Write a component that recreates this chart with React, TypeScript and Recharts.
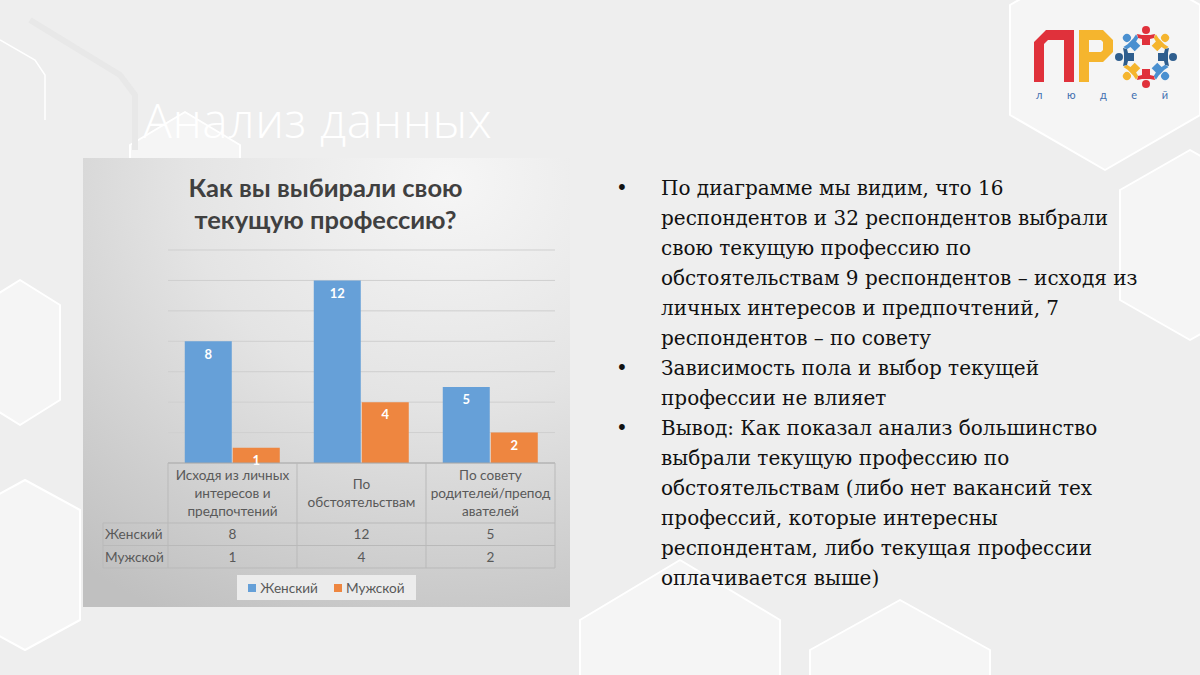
import React from "react";
import { BarChart, Bar, XAxis, YAxis, CartesianGrid, Legend, LabelList } from "recharts";

// категории (строки заголовков таблицы данных)
const categoryLines: string[][] = [
  ["Исходя из личных", "интересов и", "предпочтений"],
  ["По", "обстоятельствам"],
  ["По совету", "родителей/препод", "авателей"],
];
const seriesNames = ["Женский", "Мужской"];
const femaleValues = [8, 12, 5];
const maleValues = [1, 4, 2];
const yTicks = [0, 2, 4, 6, 8, 10, 12, 14];

const chartTitle = ["Как вы выбирали свою", "текущую профессию?"];
const slideTitle = "Анализ данных";
const bullets: string[][] = [
  [
    "По диаграмме мы видим, что 16",
    "респондентов и 32 респондентов выбрали",
    "свою текущую профессию по",
    "обстоятельствам 9 респондентов – исходя из",
    "личных интересов и предпочтений, 7",
    "респондентов – по совету",
  ],
  ["Зависимость пола и выбор текущей", "профессии не влияет"],
  [
    "Вывод: Как показал анализ большинство",
    "выбрали текущую профессию по",
    "обстоятельствам (либо нет вакансий тех",
    "профессий, которые интересны",
    "респондентам, либо текущая профессии",
    "оплачивается выше)",
  ],
];

const data = categoryLines.map((lines, i) => ({
  name: lines.join(" "),
  female: femaleValues[i],
  male: maleValues[i],
}));

const BLUE = "#66A0D8";
const ORANGE = "#EE8640";
const FONT = "Lato, 'Open Sans', sans-serif";

const CHART_W = 487;
const CHART_H = 449;
const MARGIN = { top: 92, right: 15, left: 85, bottom: 7 };
const BAND = (CHART_W - MARGIN.left - MARGIN.right) / categoryLines.length;
const HEAD_H = 60;
const ROW_H = 22.5;
const LABEL_COL = 65;
const TABLE_LINE = "#b9b9b9";
const TEXT = "#595959";

// таблица данных под осью X
const TableTick = (props: any) => {
  const { x, y, payload } = props;
  const i = payload.index;
  const lines = categoryLines[i];
  const left = x - BAND / 2;
  const right = x + BAND / 2;
  const rows = [femaleValues[i], maleValues[i]];
  const lh = 18;
  const y0 = y + HEAD_H / 2 - ((lines.length - 1) * lh) / 2;
  return (
    <g fontFamily={FONT} fontSize={13.6} fill={TEXT}>
      <line x1={left} x2={left} y1={y} y2={y + HEAD_H + ROW_H * 2} stroke={TABLE_LINE} />
      {i === categoryLines.length - 1 && (
        <line x1={right} x2={right} y1={y} y2={y + HEAD_H + ROW_H * 2} stroke={TABLE_LINE} />
      )}
      {[0, 1, 2].map((r) => (
        <line
          key={r}
          x1={i === 0 ? left - LABEL_COL : left}
          x2={right}
          y1={y + HEAD_H + ROW_H * r}
          y2={y + HEAD_H + ROW_H * r}
          stroke={TABLE_LINE}
        />
      ))}
      {i === 0 && (
        <line
          x1={left - LABEL_COL}
          x2={left - LABEL_COL}
          y1={y + HEAD_H}
          y2={y + HEAD_H + ROW_H * 2}
          stroke={TABLE_LINE}
        />
      )}
      {lines.map((t, k) => (
        <text key={k} x={x} y={y0 + k * lh} textAnchor="middle" dominantBaseline="central">
          {t}
        </text>
      ))}
      {rows.map((v, r) => (
        <text
          key={r}
          x={x}
          y={y + HEAD_H + ROW_H * r + ROW_H / 2}
          textAnchor="middle"
          dominantBaseline="central"
        >
          {v}
        </text>
      ))}
      {i === 0 &&
        seriesNames.map((s, r) => (
          <text
            key={s}
            x={left - LABEL_COL + 2}
            y={y + HEAD_H + ROW_H * r + ROW_H / 2}
            dominantBaseline="central"
          >
            {s}
          </text>
        ))}
    </g>
  );
};

const renderLegend = () => (
  <div style={{ paddingTop: 7, display: "flex", justifyContent: "center" }}>
    <div
      style={{
        height: 25,
        width: 179,
        background: "#ececec",
        display: "flex",
        alignItems: "center",
        justifyContent: "center",
        fontFamily: FONT,
        fontSize: 13.6,
        color: TEXT,
      }}
    >
      {seriesNames.map((s, k) => (
        <span key={s} style={{ display: "flex", alignItems: "center", marginLeft: k ? 16 : 0 }}>
          <span style={{ width: 8, height: 8, background: k ? ORANGE : BLUE, marginRight: 4 }} />
          {s}
        </span>
      ))}
    </div>
  </div>
);

const peopleColors = ["#e0313b", "#f5b52e", "#2f5e8e", "#4a90d0", "#e0313b", "#f5b52e", "#2f5e8e", "#4a90d0"];

const Logo = () => (
  <svg width={1200} height={675} style={{ position: "absolute", left: 0, top: 0 }}>
    <path
      d="M1034 82 L1034 42 L1046 30 L1074 30 L1074 82 L1064 82 L1064 40 L1048 40 L1044 44 L1044 82 Z"
      fill="#e0313b"
    />
    <path
      d="M1079 82 L1079 30 L1103 30 L1113 40 L1113 52 L1103 62 L1089 62 L1089 82 Z M1089 40 L1101 40 L1103 42 L1103 50 L1101 52 L1089 52 Z"
      fill="#f5b52e"
      fillRule="evenodd"
    />
    {peopleColors.map((c, k) => {
      const a = (k * 45 * Math.PI) / 180;
      const cx = 1146;
      const cy = 57;
      return (
        <g key={k} transform={`translate(${cx + Math.sin(a) * 21} ${cy - Math.cos(a) * 21}) rotate(${k * 45})`}>
          <circle cx={0} cy={-6} r={4} fill={c} />
          <path d="M-9 -2 L-4 -1 L4 -1 L9 -2 L8 2 L4 3 L4 9 L-4 9 L-4 3 L-8 2 Z" fill={c} />
        </g>
      );
    })}
    <text x={1036} y={99} fontFamily={FONT} fontSize={11} fill="#3f6fb0" textLength={132}>
      л ю д е й
    </text>
  </svg>
);

const Background = () => (
  <svg width={1200} height={675} style={{ position: "absolute", left: 0, top: 0 }}>
    <rect width={1200} height={675} fill="#eeeeee" />
    <g fill="#f5f5f5" stroke="#ffffff" strokeWidth={2} strokeLinejoin="round">
      <polygon points="1105,-50 1200,5 1200,115 1105,170 1010,115 1010,5" />
      <polygon points="1190,150 1260,190 1260,300 1190,340 1120,300 1120,190" />
      <polygon points="680,560 780,620 780,740 680,800 580,740 580,620" />
      <polygon points="900,600 990,650 990,760 900,810 810,760 810,650" />
      <polygon points="25,480 80,510 80,620 25,650 -30,620 -30,510" />
      <polygon points="20,280 60,305 60,400 20,425 -20,400 -20,305" />
      <polygon points="185,112 240,145 240,200 185,230 130,200 130,145" />
    </g>
    <polyline points="0,40 35,60 45,75 45,120" fill="none" stroke="#ffffff" strokeWidth={1.5} />
    <polyline points="30,20 120,75 135,95 135,150" fill="none" stroke="#e8e8e8" strokeWidth={6} />
  </svg>
);

export default function App() {
  return (
    <div
      style={{
        position: "absolute",
        left: 0,
        top: 0,
        width: 1200,
        height: 675,
        overflow: "hidden",
        background: "#eeeeee",
      }}
    >
      <Background />
      <div
        style={{
          position: "absolute",
          left: 143,
          top: 90,
          fontFamily: "'Open Sans', sans-serif",
          fontWeight: 300,
          fontSize: 48,
          letterSpacing: 0.6,
          color: "#ffffff",
          lineHeight: "60px",
          whiteSpace: "nowrap",
        }}
      >
        {slideTitle}
      </div>
      <Logo />

      {/* панель диаграммы */}
      <div
        style={{
          position: "absolute",
          left: 83,
          top: 158,
          width: CHART_W,
          height: CHART_H,
          background: "radial-gradient(ellipse 120% 110% at 75% 5%, #f6f6f6 0%, #e4e4e4 45%, #cdcdcd 80%, #c0c0c0 100%)",
        }}
      >
        <div
          style={{
            position: "absolute",
            left: 0,
            top: 171 - 158,
            width: CHART_W - 2,
            textAlign: "center",
            fontFamily: FONT,
            fontWeight: 700,
            fontSize: 25.5,
            lineHeight: "32px",
            color: "#404040",
          }}
        >
          {chartTitle.map((t) => (
            <div key={t}>{t}</div>
          ))}
        </div>
        <div style={{ position: "absolute", left: 0, top: 0 }}>
          <BarChart
            width={CHART_W}
            height={CHART_H}
            data={data}
            margin={MARGIN}
            barCategoryGap="13%"
            barGap={1}
          >
            <CartesianGrid horizontal vertical={false} stroke="#cfcfcf" />
            <XAxis
              dataKey="name"
              interval={0}
              height={HEAD_H + ROW_H * 2}
              tick={<TableTick />}
              tickLine={false}
              tickSize={0}
              tickMargin={0}
              axisLine={{ stroke: "#a6a6a6" }}
            />
            <YAxis hide domain={[0, 14]} ticks={yTicks} />
            <Legend verticalAlign="bottom" content={renderLegend} wrapperStyle={{ left: 0, width: CHART_W }} />
            <Bar dataKey="female" name={seriesNames[0]} fill={BLUE} isAnimationActive={false}>
              <LabelList dataKey="female" position="insideTop" offset={8} fill="#ffffff" fontSize={13} fontWeight={700} fontFamily={FONT} />
            </Bar>
            <Bar dataKey="male" name={seriesNames[1]} fill={ORANGE} isAnimationActive={false}>
              <LabelList dataKey="male" position="insideTop" offset={8} fill="#ffffff" fontSize={13} fontWeight={700} fontFamily={FONT} />
            </Bar>
          </BarChart>
        </div>
      </div>

      {/* текст справа */}
      <div
        style={{
          position: "absolute",
          left: 612,
          top: 173,
          fontFamily: "'DejaVu Serif', serif",
          fontSize: 20,
          lineHeight: "30px",
          color: "#111111",
          whiteSpace: "nowrap",
        }}
      >
        {bullets.map((b, k) => (
          <div key={k} style={{ position: "relative", paddingLeft: 49 }}>
            <span style={{ position: "absolute", left: 4 }}>•</span>
            {b.map((l) => (
              <div key={l}>{l}</div>
            ))}
          </div>
        ))}
      </div>
    </div>
  );
}
